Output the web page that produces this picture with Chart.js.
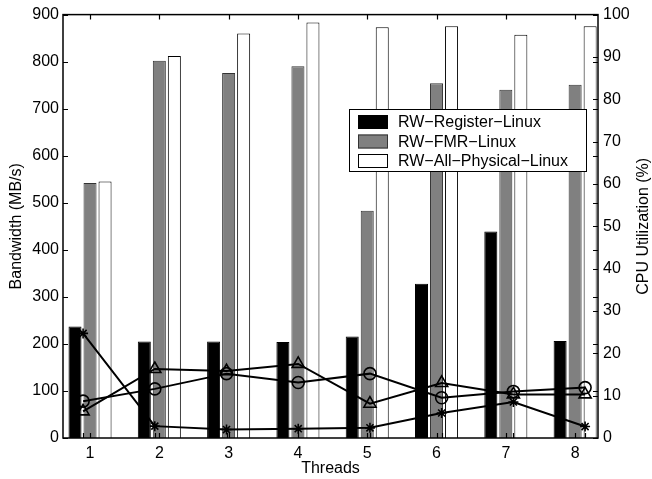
<!DOCTYPE html>
<html>
<head>
<meta charset="utf-8">
<script src="https://cdn.jsdelivr.net/npm/chart.js@4.4.1/dist/chart.umd.min.js"></script>
<style>
  html, body { margin: 0; padding: 0; background: #fff; }
</style>
</head>
<body>
<canvas id="chart" width="652" height="479"></canvas>
<script>
// Threads on the x axis
const threads = [1, 2, 3, 4, 5, 6, 7, 8];

// Bandwidth (MB/s), left axis
const registerBw = [237, 205, 205, 204, 216, 328, 439, 206];
const fmrBw = [542, 802, 776, 790, 483, 754, 740, 751];
const physicalBw = [545, 812, 860, 883, 873, 875, 857, 875];

// CPU utilization (%), right axis
const cpuStar = [24.7, 2.8, 2.0, 2.2, 2.4, 5.9, 8.5, 2.7];
const cpuCircle = [8.7, 11.6, 15.2, 13.1, 15.2, 9.5, 11.0, 11.9];
const cpuTriangle = [6.3, 16.3, 15.8, 17.5, 8.1, 13.0, 10.3, 10.3];

const bwTicks = [0, 100, 200, 300, 400, 500, 600, 700, 800, 900];
const cpuTicks = [0, 10, 20, 30, 40, 50, 60, 70, 80, 90, 100];

const legendLabels = ["RW\u2212Register\u2212Linux", "RW\u2212FMR\u2212Linux", "RW\u2212All\u2212Physical\u2212Linux"];

// x ranges (the line axes of the original figure sit slightly apart)
const xMin = 0.61, xMax = 8.33;
const lineXMin = 0.72, lineXMax = 8.18;

// Chart.js 4.5 splits each group into slots for every index axis used
// (bar axis + line axis = 2), so the bars fill the left half; shift their axis.
const barCatPct = 1.3;
const barShift = (1.5 * barCatPct) / 6;

Chart.defaults.font.family = "'Liberation Sans', Arial, sans-serif";
Chart.defaults.font.size = 16;
Chart.defaults.color = "#000";

function toPoints(values) {
  return threads.map((t, i) => ({ x: t, y: values[i] }));
}

function barSet(label, values, fill, edge) {
  return {
    type: "bar",
    label: label,
    data: toPoints(values),
    backgroundColor: fill,
    borderColor: edge,
    borderWidth: 1,
    xAxisID: "xb",
    yAxisID: "y",
    order: 1,
  };
}

function lineSet(values, style, radius) {
  return {
    type: "line",
    data: toPoints(values),
    borderColor: "#000",
    borderWidth: 2,
    fill: false,
    tension: 0,
    pointStyle: style,
    pointRadius: radius,
    pointBorderWidth: 1.6,
    pointBorderColor: "#000",
    pointBackgroundColor: "rgba(0,0,0,0)",
    xAxisID: "x2",
    yAxisID: "y2",
    order: 0,
  };
}

// axes box, inward ticks, legend and right axis title
const matlabFrame = {
  id: "matlabFrame",
  afterDraw(chart) {
    const ctx = chart.ctx;
    const a = chart.chartArea;
    const sx = chart.scales.x, sx2 = chart.scales.x2;
    const sy = chart.scales.y, sy2 = chart.scales.y2;
    const tl = 5;
    ctx.save();
    ctx.strokeStyle = "#000";
    ctx.lineWidth = 1.2;
    ctx.beginPath();
    bwTicks.forEach((v) => {
      const py = Math.round(sy.getPixelForValue(v)) + 0.5;
      ctx.moveTo(a.left, py); ctx.lineTo(a.left + tl, py);
      ctx.moveTo(a.right, py); ctx.lineTo(a.right - tl, py);
    });
    cpuTicks.forEach((v) => {
      const py = Math.round(sy2.getPixelForValue(v)) + 0.5;
      ctx.moveTo(a.right, py); ctx.lineTo(a.right - tl, py);
    });
    threads.forEach((t) => {
      const px = Math.round(sx.getPixelForValue(t)) + 0.5;
      ctx.moveTo(px, a.top); ctx.lineTo(px, a.top + tl);
      ctx.moveTo(px, a.bottom); ctx.lineTo(px, a.bottom - tl);
      const px2 = Math.round(sx2.getPixelForValue(t)) + 0.5;
      ctx.moveTo(px2, a.bottom); ctx.lineTo(px2, a.bottom - tl);
    });
    ctx.stroke();
    ctx.lineWidth = 1.5;
    ctx.strokeRect(a.left, a.top, a.right - a.left, a.bottom - a.top);

    // legend
    const lx = 349, ly = 109, lw = 237, lh = 62;
    ctx.fillStyle = "#fff";
    ctx.fillRect(lx, ly, lw, lh);
    ctx.lineWidth = 1;
    ctx.strokeRect(lx + 0.5, ly + 0.5, lw, lh);
    ctx.font = "16px 'Liberation Sans', Arial, sans-serif";
    ctx.textBaseline = "middle";
    ctx.textAlign = "left";
    const bars = chart.data.datasets.filter((d) => d.type === "bar");
    bars.forEach((d, i) => {
      const cy = ly + 13 + i * 19.5;
      ctx.fillStyle = d.backgroundColor;
      ctx.fillRect(358, cy - 7, 30, 14);
      ctx.strokeStyle = d.borderColor;
      ctx.strokeRect(358.5, cy - 6.5, 29, 13);
      ctx.fillStyle = "#000";
      ctx.fillText(d.label, 398, cy + 1);
    });

    // right axis title, reads bottom to top
    ctx.translate(644, (a.top + a.bottom) / 2);
    ctx.rotate(-Math.PI / 2);
    ctx.textAlign = "center";
    ctx.fillText("CPU Utilization (%)", 0, 0);
    ctx.restore();
  },
};

const hiddenX = (min, max) => ({
  type: "linear",
  display: false,
  offset: false,
  grid: { offset: false },
  min: min,
  max: max,
  ticks: { stepSize: 1, includeBounds: false },
});

new Chart(document.getElementById("chart"), {
  type: "bar",
  data: {
    datasets: [
      barSet(legendLabels[0], registerBw, "#000000", "#000000"),
      barSet(legendLabels[1], fmrBw, "#808080", "#333333"),
      barSet(legendLabels[2], physicalBw, "#ffffff", "#000000"),
      lineSet(cpuStar, "star", 5),
      lineSet(cpuCircle, "circle", 6),
      lineSet(cpuTriangle, "triangle", 7),
    ],
  },
  options: {
    responsive: false,
    animation: false,
    devicePixelRatio: 1,
    layout: { padding: { top: 12, left: 0, right: 0, bottom: 0 } },
    datasets: { bar: { categoryPercentage: barCatPct, barPercentage: 0.867 } },
    plugins: { legend: { display: false }, tooltip: { enabled: false } },
    scales: {
      x: {
        type: "linear",
        position: "bottom",
        min: xMin,
        max: xMax,
        offset: false,
        grid: { display: false, drawTicks: false, offset: false },
        border: { display: false },
        ticks: { stepSize: 1, includeBounds: false, padding: 6, maxRotation: 0 },
        title: { display: true, text: "Threads", padding: { top: 0, bottom: 1 } },
        afterFit(s) { s.height = 41; },
      },
      xb: hiddenX(xMin - barShift, xMax - barShift),
      x2: hiddenX(lineXMin, lineXMax),
      y: {
        position: "left",
        min: 0,
        max: 900,
        grid: { display: false, drawTicks: false },
        border: { display: false },
        ticks: { stepSize: 100, padding: 4 },
        title: { display: true, text: "Bandwidth (MB/s)", padding: { top: 7, bottom: 0 } },
        afterFit(s) { s.width = 63; },
      },
      y2: {
        position: "right",
        min: 0,
        max: 100,
        grid: { display: false, drawTicks: false },
        border: { display: false },
        ticks: { stepSize: 10, padding: 5 },
        afterFit(s) { s.width = 54; },
      },
    },
  },
  plugins: [matlabFrame],
});
</script>
</body>
</html>
